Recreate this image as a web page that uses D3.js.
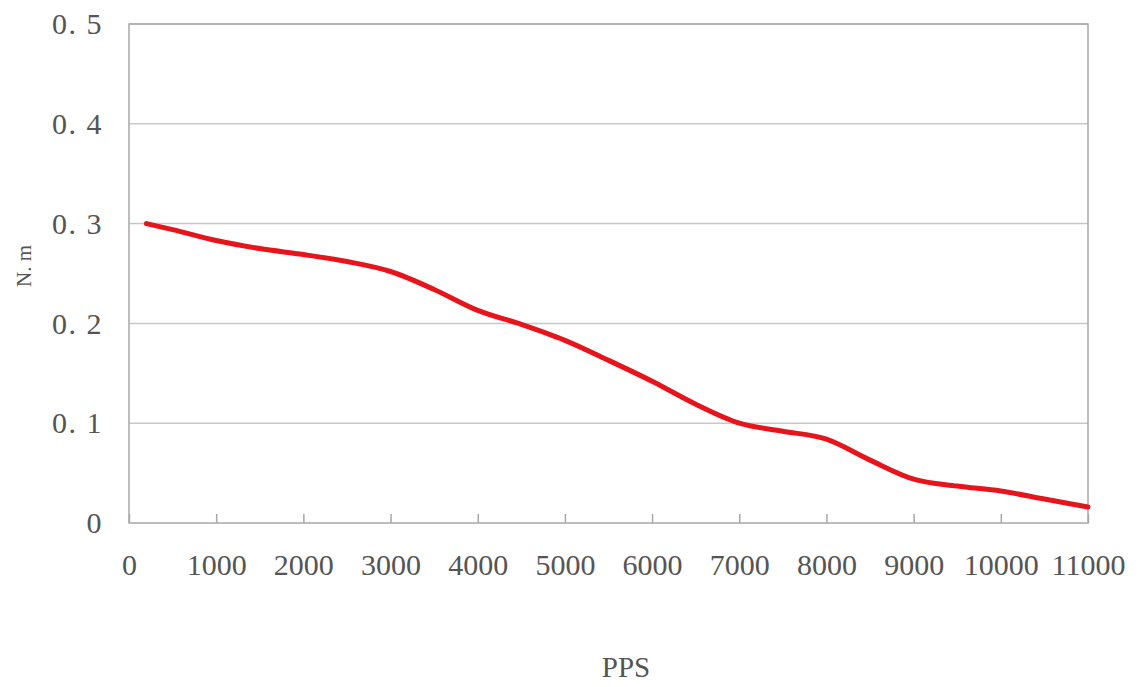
<!DOCTYPE html>
<html><head><meta charset="utf-8">
<script src="https://cdn.jsdelivr.net/npm/d3@7"></script>
<style>body{margin:0;background:#fff}svg{display:block}</style>
</head><body>
<svg id="c" width="1141" height="687"></svg>
<script>
const pps = [200, 500, 1000, 1500, 2000, 2500, 3000, 3500, 4000, 4500, 5000, 5500, 6000, 6500, 7000, 7500, 8000, 8500, 9000, 9500, 10000, 10500, 11000];
const torque = [0.300, 0.294, 0.283, 0.275, 0.269, 0.262, 0.252, 0.234, 0.213, 0.199, 0.183, 0.163, 0.142, 0.119, 0.100, 0.092, 0.084, 0.063, 0.044, 0.037, 0.032, 0.024, 0.016];
const xTicks = [0, 1000, 2000, 3000, 4000, 5000, 6000, 7000, 8000, 9000, 10000, 11000];
const yTicks = [0, 0.1, 0.2, 0.3, 0.4, 0.5];
const yLabels = ["0", "0. 1", "0. 2", "0. 3", "0. 4", "0. 5"];

const svg = d3.select("#c");
const L = 129, R = 1088, T = 24, B = 523;
const x = d3.scaleLinear().domain([0, 11000]).range([L, R]);
const y = d3.scaleLinear().domain([0, 0.5]).range([B, T]);
const font = "'Liberation Serif','DejaVu Serif',serif";

// gridlines
svg.append("g").selectAll("line").data(yTicks.filter(d => d > 0)).join("line")
  .attr("x1", L).attr("x2", R).attr("y1", d => y(d)).attr("y2", d => y(d))
  .attr("stroke", "#c8c8c8").attr("stroke-width", 1.5);

// frame
svg.append("rect").attr("x", L).attr("y", T).attr("width", R - L).attr("height", B - T)
  .attr("fill", "none").attr("stroke", "#a8a8a8").attr("stroke-width", 1.5);

// x axis
const xa = svg.append("g").attr("transform", `translate(0,${B})`)
  .call(d3.axisBottom(x).tickValues(xTicks).tickSize(-9).tickFormat(d3.format("d")));
xa.select(".domain").remove();
xa.selectAll(".tick line").attr("stroke", "#a8a8a8").attr("stroke-width", 1.5);
xa.selectAll("text").attr("font-family", font).attr("font-size", 30).attr("fill", "#555")
  .attr("dy", null).attr("y", 52);

// y axis
const ya = svg.append("g").attr("transform", `translate(${L},0)`)
  .call(d3.axisLeft(y).tickValues(yTicks).tickSize(0).tickPadding(26).tickFormat((d, i) => yLabels[i]));
ya.select(".domain").remove();
ya.selectAll("text").attr("font-family", font).attr("font-size", 30).attr("fill", "#555")
  .attr("letter-spacing", 1.5);

// line
svg.append("path").datum(pps.map((p, i) => [p, torque[i]]))
  .attr("fill", "none").attr("stroke", "#e8141c").attr("stroke-width", 5)
  .attr("stroke-linecap", "round")
  .attr("d", d3.line().x(d => x(d[0])).y(d => y(d[1])).curve(d3.curveMonotoneX));

// titles
svg.append("text").attr("x", 626).attr("y", 677).attr("text-anchor", "middle")
  .attr("font-family", font).attr("font-size", 29).attr("fill", "#555").text("PPS");
svg.append("text").attr("transform", "translate(31,266) rotate(-90)").attr("text-anchor", "middle")
  .attr("font-family", font).attr("font-size", 21).attr("fill", "#555").text("N. m");
</script>
</body></html>
